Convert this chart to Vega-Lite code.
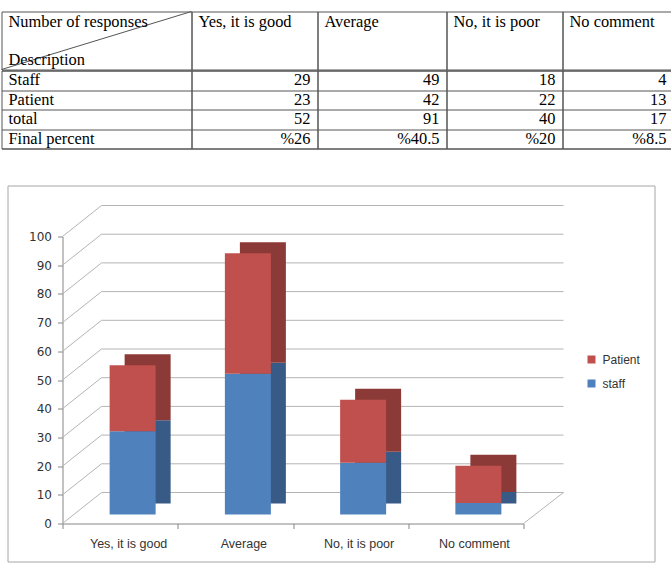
{
  "$schema": "https://vega.github.io/schema/vega-lite/v6.json",
  "padding": {"left": 0.5, "top": 10.5, "right": 0, "bottom": 0},
  "background": "white",
  "config": {
    "view": {"stroke": "#555555", "strokeWidth": 1},
    "text": {"font": "Liberation Serif", "fontSize": 16.4, "color": "#000000"}
  },
  "datasets": {
    "table": [
      {"Description": "Staff", "good": "29", "average": "49", "poor": "18", "none": "4"},
      {"Description": "Patient", "good": "23", "average": "42", "poor": "22", "none": "13"},
      {"Description": "total", "good": "52", "average": "91", "poor": "40", "none": "17"},
      {"Description": "Final percent", "good": "%26", "average": "%40.5", "poor": "%20", "none": "%8.5"}
    ],
    "responses": [
      {"category": "Yes, it is good", "group": "staff", "value": 29},
      {"category": "Yes, it is good", "group": "Patient", "value": 23},
      {"category": "Average", "group": "staff", "value": 49},
      {"category": "Average", "group": "Patient", "value": 42},
      {"category": "No, it is poor", "group": "staff", "value": 18},
      {"category": "No, it is poor", "group": "Patient", "value": 22},
      {"category": "No comment", "group": "staff", "value": 4},
      {"category": "No comment", "group": "Patient", "value": 13}
    ],
    "gridlines": [
      {"v": 0}, {"v": 10}, {"v": 20}, {"v": 30}, {"v": 40}, {"v": 50},
      {"v": 60}, {"v": 70}, {"v": 80}, {"v": 90}, {"v": 100}
    ]
  },
  "spacing": 35,
  "resolve": {"scale": {"color": "independent"}, "legend": {"color": "independent"}},
  "vconcat": [
    {
      "spacing": -1,
      "vconcat": [
        {
          "spacing": 0,
          "bounds": "flush",
          "hconcat": [
            {
              "width": 190, "height": 58,
              "data": {"values": [{"top": "Number of responses", "bottom": "Description"}]},
              "layer": [
                {
                  "mark": {"type": "rule", "color": "#555555", "strokeWidth": 1},
                  "encoding": {
                    "x": {"datum": 0, "type": "quantitative", "scale": {"domain": [0, 1], "nice": false, "zero": false}, "axis": null},
                    "x2": {"datum": 1},
                    "y": {"datum": 0, "type": "quantitative", "scale": {"domain": [0, 1], "nice": false, "zero": false}, "axis": null},
                    "y2": {"datum": 1}
                  }
                },
                {
                  "mark": {"type": "text", "align": "left", "baseline": "alphabetic", "dx": 7, "dy": 15},
                  "encoding": {
                    "text": {"field": "top"},
                    "x": {"datum": 0, "type": "quantitative"},
                    "y": {"datum": 1, "type": "quantitative"}
                  }
                },
                {
                  "mark": {"type": "text", "align": "left", "baseline": "alphabetic", "dx": 7, "dy": -5},
                  "encoding": {
                    "text": {"field": "bottom"},
                    "x": {"datum": 0, "type": "quantitative"},
                    "y": {"datum": 0, "type": "quantitative"}
                  }
                }
              ]
            },
            {
              "width": 126, "height": 58,
              "data": {"values": [{"label": "Yes, it is good"}]},
              "mark": {"type": "text", "align": "left", "baseline": "alphabetic", "dx": 7, "dy": 15},
              "encoding": {
                "text": {"field": "label"},
                "x": {"datum": 0, "type": "quantitative", "scale": {"domain": [0, 1], "nice": false, "zero": false}, "axis": null},
                "y": {"datum": 1, "type": "quantitative", "scale": {"domain": [0, 1], "nice": false, "zero": false}, "axis": null}
              }
            },
            {
              "width": 129, "height": 58,
              "data": {"values": [{"label": "Average"}]},
              "mark": {"type": "text", "align": "left", "baseline": "alphabetic", "dx": 7, "dy": 15},
              "encoding": {
                "text": {"field": "label"},
                "x": {"datum": 0, "type": "quantitative", "scale": {"domain": [0, 1], "nice": false, "zero": false}, "axis": null},
                "y": {"datum": 1, "type": "quantitative", "scale": {"domain": [0, 1], "nice": false, "zero": false}, "axis": null}
              }
            },
            {
              "width": 116, "height": 58,
              "data": {"values": [{"label": "No, it is poor"}]},
              "mark": {"type": "text", "align": "left", "baseline": "alphabetic", "dx": 7, "dy": 15},
              "encoding": {
                "text": {"field": "label"},
                "x": {"datum": 0, "type": "quantitative", "scale": {"domain": [0, 1], "nice": false, "zero": false}, "axis": null},
                "y": {"datum": 1, "type": "quantitative", "scale": {"domain": [0, 1], "nice": false, "zero": false}, "axis": null}
              }
            },
            {
              "width": 109, "height": 58,
              "data": {"values": [{"label": "No comment"}]},
              "mark": {"type": "text", "align": "left", "baseline": "alphabetic", "dx": 7, "dy": 15},
              "encoding": {
                "text": {"field": "label"},
                "x": {"datum": 0, "type": "quantitative", "scale": {"domain": [0, 1], "nice": false, "zero": false}, "axis": null},
                "y": {"datum": 1, "type": "quantitative", "scale": {"domain": [0, 1], "nice": false, "zero": false}, "axis": null}
              }
            }
          ]
        },
        {
          "spacing": 0,
          "bounds": "flush",
          "hconcat": [
            {
              "width": 190, "height": 78,
              "data": {"name": "table"},
              "mark": {"type": "text", "align": "left", "baseline": "middle", "dx": 7},
              "encoding": {
                "text": {"field": "Description"},
                "x": {"datum": 0, "type": "quantitative", "scale": {"domain": [0, 1], "nice": false, "zero": false}, "axis": null},
                "y": {"field": "Description", "type": "nominal", "sort": ["Staff", "Patient", "total", "Final percent"],
                      "scale": {"type": "band", "paddingInner": 0, "paddingOuter": 0},
                      "axis": {"title": null, "grid": true, "tickBand": "extent", "labels": false, "ticks": false, "domain": false, "gridColor": "#555555", "gridOpacity": 1, "minExtent": 0, "maxExtent": 0}}
              }
            },
            {
              "width": 126, "height": 78,
              "data": {"name": "table"},
              "mark": {"type": "text", "align": "right", "baseline": "middle", "dx": -7},
              "encoding": {
                "text": {"field": "good"},
                "x": {"datum": 1, "type": "quantitative", "scale": {"domain": [0, 1], "nice": false, "zero": false}, "axis": null},
                "y": {"field": "Description", "type": "nominal", "sort": ["Staff", "Patient", "total", "Final percent"],
                      "scale": {"type": "band", "paddingInner": 0, "paddingOuter": 0},
                      "axis": {"title": null, "grid": true, "tickBand": "extent", "labels": false, "ticks": false, "domain": false, "gridColor": "#555555", "gridOpacity": 1, "minExtent": 0, "maxExtent": 0}}
              }
            },
            {
              "width": 129, "height": 78,
              "data": {"name": "table"},
              "mark": {"type": "text", "align": "right", "baseline": "middle", "dx": -7},
              "encoding": {
                "text": {"field": "average"},
                "x": {"datum": 1, "type": "quantitative", "scale": {"domain": [0, 1], "nice": false, "zero": false}, "axis": null},
                "y": {"field": "Description", "type": "nominal", "sort": ["Staff", "Patient", "total", "Final percent"],
                      "scale": {"type": "band", "paddingInner": 0, "paddingOuter": 0},
                      "axis": {"title": null, "grid": true, "tickBand": "extent", "labels": false, "ticks": false, "domain": false, "gridColor": "#555555", "gridOpacity": 1, "minExtent": 0, "maxExtent": 0}}
              }
            },
            {
              "width": 116, "height": 78,
              "data": {"name": "table"},
              "mark": {"type": "text", "align": "right", "baseline": "middle", "dx": -7},
              "encoding": {
                "text": {"field": "poor"},
                "x": {"datum": 1, "type": "quantitative", "scale": {"domain": [0, 1], "nice": false, "zero": false}, "axis": null},
                "y": {"field": "Description", "type": "nominal", "sort": ["Staff", "Patient", "total", "Final percent"],
                      "scale": {"type": "band", "paddingInner": 0, "paddingOuter": 0},
                      "axis": {"title": null, "grid": true, "tickBand": "extent", "labels": false, "ticks": false, "domain": false, "gridColor": "#555555", "gridOpacity": 1, "minExtent": 0, "maxExtent": 0}}
              }
            },
            {
              "width": 109, "height": 78,
              "data": {"name": "table"},
              "mark": {"type": "text", "align": "right", "baseline": "middle", "dx": -5},
              "encoding": {
                "text": {"field": "none"},
                "x": {"datum": 1, "type": "quantitative", "scale": {"domain": [0, 1], "nice": false, "zero": false}, "axis": null},
                "y": {"field": "Description", "type": "nominal", "sort": ["Staff", "Patient", "total", "Final percent"],
                      "scale": {"type": "band", "paddingInner": 0, "paddingOuter": 0},
                      "axis": {"title": null, "grid": true, "tickBand": "extent", "labels": false, "ticks": false, "domain": false, "gridColor": "#555555", "gridOpacity": 1, "minExtent": 0, "maxExtent": 0}}
              }
            }
          ]
        }
      ]
    },
    {
      "spacing": 0,
      "bounds": "flush",
      "resolve": {"scale": {"color": "independent"}, "legend": {"color": "independent"}},
      "hconcat": [
        {
          "width": 6, "height": 376,
          "view": {"stroke": null},
          "data": {"values": []},
          "mark": "point"
        },
        {
          "width": 647, "height": 376,
          "view": {"stroke": "#a6a6a6"},
          "layer": [
            {
              "data": {"name": "gridlines"},
              "mark": {"type": "rule", "color": "#b4b4b4", "xOffset": 39, "x2Offset": 40, "yOffset": -31},
              "encoding": {
                "x": {"datum": "Yes, it is good", "type": "nominal", "bandPosition": 0, "axis": {"title": null}},
                "x2": {"datum": "No comment", "bandPosition": 1},
                "y": {"field": "v", "type": "quantitative", "axis": {"title": null}}
              }
            },
            {
              "data": {"name": "gridlines"},
              "mark": {"type": "rule", "color": "#b4b4b4", "x2Offset": 39, "y2Offset": -31},
              "encoding": {
                "x": {"datum": "Yes, it is good", "type": "nominal", "bandPosition": 0, "axis": {"title": null}},
                "x2": {"datum": "Yes, it is good", "bandPosition": 0},
                "y": {"field": "v", "type": "quantitative", "axis": {"title": null}},
                "y2": {"field": "v"}
              }
            },
            {
              "data": {"name": "gridlines"},
              "transform": [{"filter": "datum.v == 0"}],
              "mark": {"type": "rule", "color": "#b4b4b4", "x2Offset": 40, "y2Offset": -31},
              "encoding": {
                "x": {"datum": "No comment", "type": "nominal", "bandPosition": 1, "axis": {"title": null}},
                "x2": {"datum": "No comment", "bandPosition": 1},
                "y": {"field": "v", "type": "quantitative", "axis": {"title": null}},
                "y2": {"field": "v"}
              }
            },
            {
              "data": {"name": "responses"},
              "mark": {"type": "bar", "width": 46, "xOffset": 27.5, "x2Offset": 27.5, "yOffset": -20, "y2Offset": -20},
              "encoding": {
                "x": {"field": "category", "type": "nominal", "axis": {"title": null}},
                "y": {"field": "value", "type": "quantitative", "axis": {"title": null}},
                "detail": {"field": "group"},
                "order": {"field": "group", "sort": "descending"},
                "color": {"condition": {"test": "datum.group === 'staff'", "value": "#385a86"}, "value": "#8c3a37"}
              }
            },
            {
              "data": {"name": "responses"},
              "mark": {"type": "bar", "width": 46, "xOffset": 12.5, "x2Offset": 12.5, "yOffset": -9, "y2Offset": -9},
              "encoding": {
                "x": {
                  "field": "category", "type": "nominal",
                  "scale": {"domain": ["Yes, it is good", "Average", "No, it is poor", "No comment"], "range": [55, 516], "paddingInner": 0, "paddingOuter": 0},
                  "axis": {"title": null, "orient": "bottom", "offset": -38, "tickBand": "extent", "tickSize": 5, "labelOffset": 8, "labelPadding": 9, "labelAngle": 0,
                           "labelAlign": "center", "labelBaseline": "top",
                           "labelFont": "Liberation Sans", "labelFontSize": 12.5, "labelColor": "#333333", "domainColor": "#868686", "tickColor": "#868686", "grid": false}
                },
                "y": {
                  "field": "value", "type": "quantitative",
                  "scale": {"domain": [0, 100], "range": [338, 51], "nice": false, "zero": true},
                  "axis": {"title": null, "orient": "left", "offset": -55, "values": [0, 10, 20, 30, 40, 50, 60, 70, 80, 90, 100], "tickCount": 11, "labelOverlap": false,
                           "tickSize": 5, "labelPadding": 6,
                           "labelFont": "DejaVu Sans", "labelFontSize": 12, "labelColor": "#333333", "domainColor": "#868686", "tickColor": "#868686", "grid": false, "minExtent": 0}
                },
                "order": {"field": "group", "sort": "descending"},
                "color": {
                  "field": "group", "type": "nominal",
                  "scale": {"domain": ["Patient", "staff"], "range": ["#c0504d", "#4f81bd"]},
                  "legend": {"title": null, "orient": "none", "legendX": 578, "legendY": 168, "symbolType": "square", "symbolSize": 64,
                             "symbolStrokeWidth": 0, "labelFont": "Liberation Sans", "labelFontSize": 12, "labelColor": "#333333",
                             "rowPadding": 12, "labelOffset": 5, "padding": 0}
                }
              }
            }
          ]
        }
      ]
    }
  ]
}
